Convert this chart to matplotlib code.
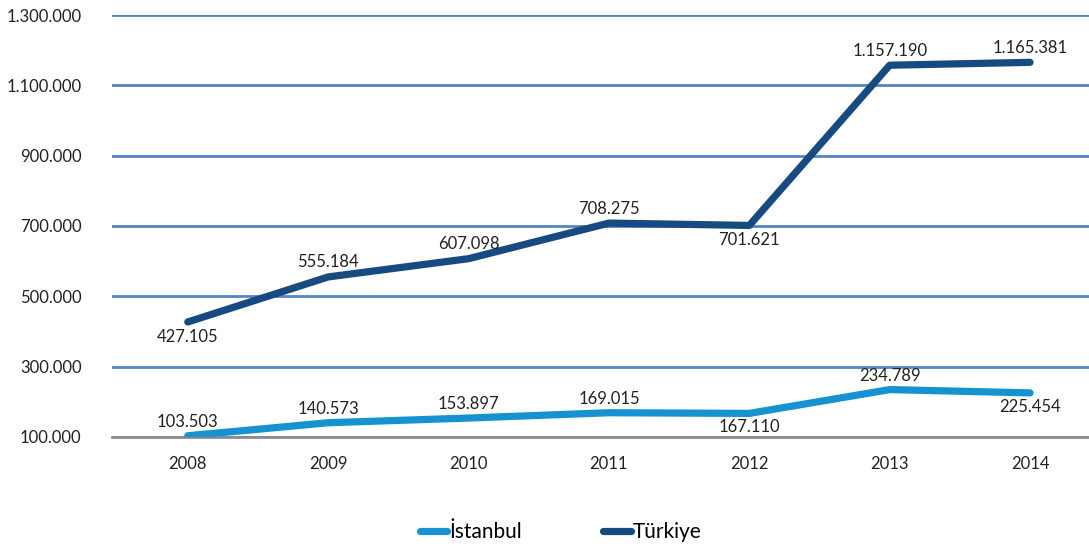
import matplotlib.pyplot as plt
from matplotlib.ticker import FuncFormatter

years = ['2008', '2009', '2010', '2011', '2012', '2013', '2014']
istanbul = [103503, 140573, 153897, 169015, 167110, 234789, 225454]
turkiye = [427105, 555184, 607098, 708275, 701621, 1157190, 1165381]
# label position per point: above (1) or below (-1) the line
istanbul_pos = [1, 1, 1, 1, -1, 1, -1]
turkiye_pos = [-1, 1, 1, 1, -1, 1, 1]

c_ist = '#1592cf'
c_tr = '#174a80'
grid_c = '#5585c2'


def dotted(v):
    return f'{int(v):,}'.replace(',', '.')


plt.rcParams['font.family'] = ['Lato', 'DejaVu Sans']

fig = plt.figure(figsize=(10.89, 5.49), dpi=100)
ax = fig.add_axes([112 / 1089, 1 - 437 / 549, (1089 - 112) / 1089, 422 / 549])

x = list(range(len(years)))
ax.plot(x, istanbul, color=c_ist, lw=5.2, solid_capstyle='round', label='İstanbul', zorder=3)
ax.plot(x, turkiye, color=c_tr, lw=5.2, solid_capstyle='round', label='Türkiye', zorder=3)

for xi, v, p in zip(x, istanbul, istanbul_pos):
    ax.annotate(dotted(v), (xi, v), xytext=(0, 10 * p), textcoords='offset points',
                ha='center', va='center', fontsize=12, color='#222222')
for xi, v, p in zip(x, turkiye, turkiye_pos):
    ax.annotate(dotted(v), (xi, v), xytext=(0, 10.5 * p), textcoords='offset points',
                ha='center', va='center', fontsize=12, color='#222222')

ax.set_xlim(-0.54, 6.42)
ax.set_ylim(100000, 1300000)
ax.set_yticks(range(100000, 1300001, 200000))
ax.yaxis.set_major_formatter(FuncFormatter(lambda v, _: dotted(v)))
ax.set_xticks(x)
ax.set_xticklabels(years)
ax.tick_params(length=0, labelsize=12, colors='#222222')
ax.tick_params(axis='y', pad=22)
ax.tick_params(axis='x', pad=14)

ax.grid(axis='y', color=grid_c, lw=2)
ax.set_axisbelow(True)
for s in ['top', 'right', 'left']:
    ax.spines[s].set_visible(False)
ax.spines['bottom'].set_color('#8c8c8c')
ax.spines['bottom'].set_linewidth(2)
ax.spines['bottom'].set_zorder(2)

fig.legend(loc='lower center', bbox_to_anchor=(0.515, -0.022), ncol=2, frameon=False,
           fontsize=15, handlelength=1.3, handletextpad=0.1, columnspacing=3.9)

fig.savefig('out.png', dpi=100)
